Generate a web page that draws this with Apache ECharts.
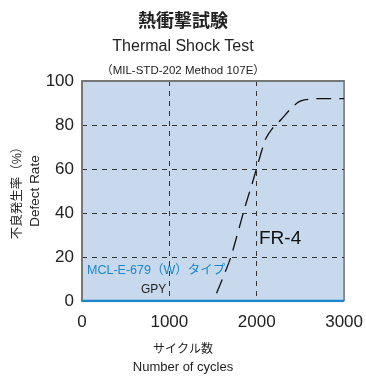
<!DOCTYPE html>
<html>
<head>
<meta charset="utf-8">
<script src="https://cdn.jsdelivr.net/npm/echarts@6/dist/echarts.min.js"></script>
<style>
  html, body { margin: 0; padding: 0; background: #fff; }
  #chart { width: 366px; height: 376px; }
</style>
</head>
<body>
<div id="chart"></div>
<script>
// cycles / defect rate
const fr4Cycles = [1540, 1700, 1860, 1960, 2040, 2100, 2180, 2280, 2380, 2480, 2560, 2700, 3000];
const fr4Rate = [3.5, 19.5, 42, 55, 66, 73.5, 78.5, 82.5, 87, 90.5, 91.5, 92, 92];
const gpyCycles = [0, 3000];
const gpyRate = [0, 0];
const xTicks = [0, 1000, 2000, 3000];
const yTicks = [0, 20, 40, 60, 80, 100];

const font = "'Liberation Sans', 'Noto Sans CJK JP', sans-serif";
const zip = (a, b) => a.map((v, i) => [v, b[i]]);

const chart = echarts.init(document.getElementById("chart"));
chart.setOption({
  animation: false,
  textStyle: { fontFamily: font },
  title: [
    { text: "熱衝撃試験", left: "center", top: 8, textStyle: { fontSize: 18, fontWeight: "bold", color: "#222", fontFamily: font } },
    { text: "Thermal Shock Test", left: "center", top: 34, textStyle: { fontSize: 16, fontWeight: "normal", color: "#222", fontFamily: font } },
    { text: "（MIL-STD-202 Method 107E）", left: "center", top: 60, textStyle: { fontSize: 11.5, fontWeight: "normal", color: "#222", fontFamily: font } },
  ],
  grid: {
    left: 82, right: 19, top: 81, bottom: 75,
    show: true, backgroundColor: "#c8d9ee", borderColor: "#333", borderWidth: 1,
  },
  xAxis: [
    {
      type: "value", min: 0, max: 3000, interval: 1000,
      axisLine: { show: false },
      axisTick: { show: false },
      axisLabel: { fontSize: 17, color: "#222", margin: 13, formatter: v => xTicks.includes(v) ? String(v) : "" },
      splitLine: { show: true, showMinLine: false, showMaxLine: false, lineStyle: { type: [5, 5], color: "#333", width: 1 } },
    },
    {
      // grey top frame
      type: "value", position: "top", min: 0, max: 3000,
      axisLine: { show: true, lineStyle: { color: "#777", width: 2 } },
      axisTick: { show: false }, axisLabel: { show: false }, splitLine: { show: false },
    },
  ],
  yAxis: {
    type: "value", min: 0, max: 100, interval: 20,
    axisLine: { show: true, lineStyle: { color: "#777", width: 2 } },
    axisTick: { show: false },
    axisLabel: { fontSize: 17, color: "#222", margin: 8, formatter: v => yTicks.includes(v) ? String(v) : "" },
    splitLine: { show: true, showMinLine: false, showMaxLine: false, lineStyle: { type: [5, 5], color: "#333", width: 1 } },
  },
  series: [
    {
      name: "GPY", type: "line", data: zip(gpyCycles, gpyRate), symbol: "none",
      lineStyle: { color: "#1a87c9", width: 2.5 }, z: 5,
    },
    {
      name: "FR-4", type: "line", data: zip(fr4Cycles, fr4Rate), symbol: "none", smooth: 0.2,
      lineStyle: { color: "#111", width: 1.3, type: [15, 8] }, z: 4,
    },
  ],
  graphic: [
    { type: "text", left: 259, top: 229, style: { text: "FR-4", font: "19px " + font, fill: "#111" } },
    { type: "text", left: 87, top: 264, style: { text: "MCL-E-679（W）タイプ", font: "12.5px " + font, fill: "#1a87c9" } },
    { type: "text", left: 141, top: 284, style: { text: "GPY", font: "12px " + font, fill: "#222" } },
    { type: "text", x: 18, y: 190, rotation: Math.PI / 2, style: { text: "不良発生率（%）", font: "12.5px " + font, fill: "#222", align: "center", verticalAlign: "middle" } },
    { type: "text", x: 35, y: 191, rotation: Math.PI / 2, style: { text: "Defect Rate", font: "13.5px " + font, fill: "#222", align: "center", verticalAlign: "middle" } },
    { type: "text", left: "center", top: 344, style: { text: "サイクル数", font: "12px " + font, fill: "#222" } },
    { type: "text", left: "center", top: 361, style: { text: "Number of cycles", font: "13px " + font, fill: "#222" } },
  ],
});
</script>
</body>
</html>
